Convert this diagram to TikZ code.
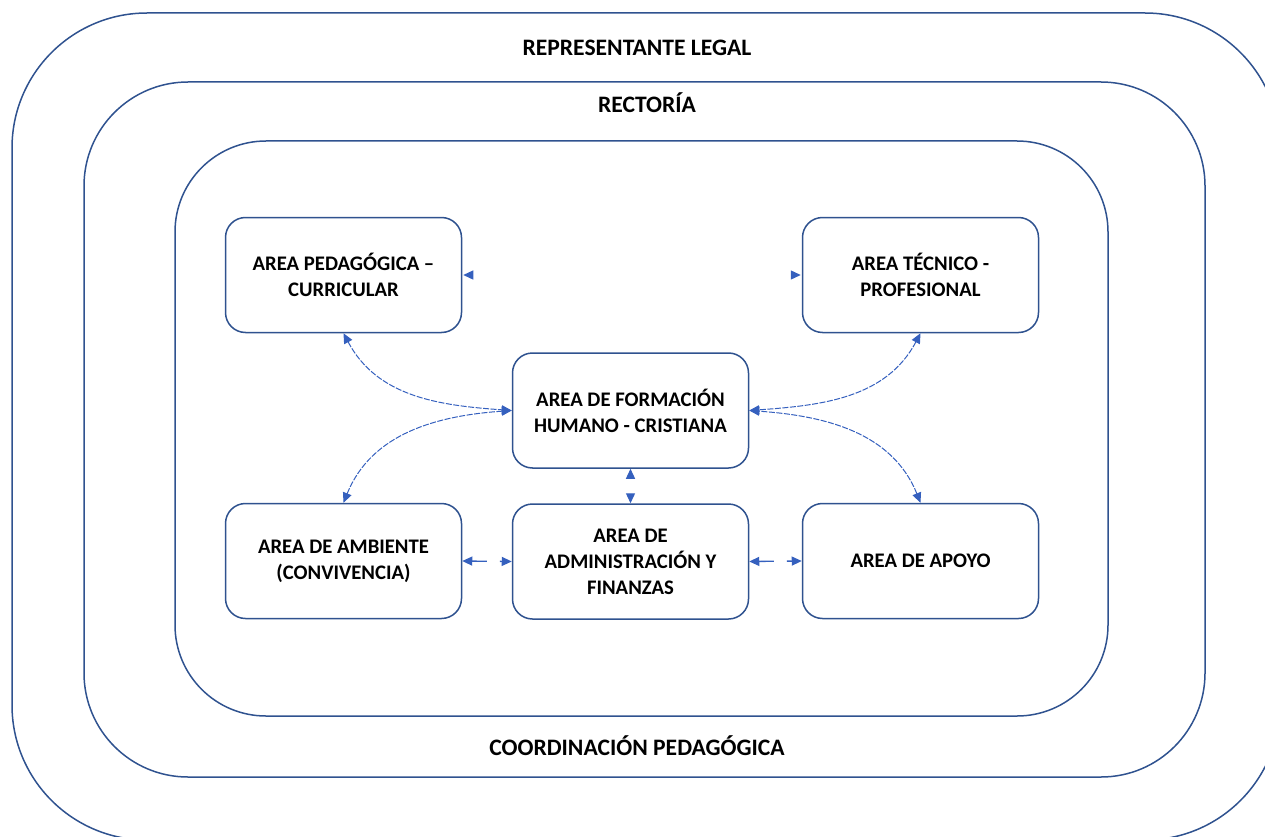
\documentclass[tikz,border=0pt]{standalone}
\usepackage{fontspec}
\setmainfont{Carlito}
\usetikzlibrary{arrows.meta}
\definecolor{frame}{HTML}{2F528F}
\definecolor{link}{HTML}{3560BE}
\tikzset{
  ring/.style={draw=frame, line width=1.5pt},
  area/.style={draw=frame, line width=1.5pt, rounded corners=20pt, fill=white,
    minimum width=236pt, minimum height=115pt, align=center,
    font=\fontsize{20.7}{26}\selectfont\bfseries, inner sep=0pt},
  heading/.style={font=\fontsize{23.6}{26}\selectfont\bfseries, inner sep=0pt},
  curvelink/.style={draw=link, line width=1pt, dash pattern=on 6pt off 1.5pt,
    {Triangle[length=10pt,width=9pt]}-{Triangle[length=10pt,width=9pt]}},
  straightlink/.style={draw=link, line width=1.3pt, dash pattern=on 15pt off 13pt,
    {Triangle[length=10pt,width=9pt]}-{Triangle[length=10pt,width=9pt]}},
  gaplink/.style={draw=link, line width=1.3pt, dash pattern=on 0pt off 40pt,
    {Triangle[length=10pt,width=9pt]}-{Triangle[length=10pt,width=9pt]}},
  lonetip/.style={draw=link, line width=1.3pt, dash pattern=on 0pt off 40pt,
    -{Triangle[length=10pt,width=9pt]}},
}
\begin{document}
\begin{tikzpicture}[x=1pt,y=1pt]
\useasboundingbox (0,0) rectangle (1265,-837);
\clip (0,0) rectangle (1265,-837);

% nested frames
\draw[ring, rounded corners=135pt] (12,-13) rectangle (1280,-840);
\draw[ring, rounded corners=104pt] (84,-82) rectangle (1205,-777);
\draw[ring, rounded corners=91pt] (175,-141) rectangle (1108,-716);

% frame headings
\node[heading] (rep) at (637,-48) {REPRESENTANTE LEGAL};
\node[heading] (rec) at (647,-103) {RECTORÍA};
\node[heading] (coord) at (637,-746) {COORDINACIÓN PEDAGÓGICA};

% areas
\node[area] (ped) at (343.5,-275) {AREA PEDAGÓGICA –\\CURRICULAR};
\node[area] (tec) at (920.5,-275) {AREA TÉCNICO -\\PROFESIONAL};
\node[area] (form) at (630.5,-410.5) {AREA DE FORMACIÓN\\HUMANO - CRISTIANA};
\node[area] (amb) at (343.5,-561) {AREA DE AMBIENTE\\(CONVIVENCIA)};
\node[area] (adm) at (630.5,-561.5) {AREA DE\\ADMINISTRACIÓN Y\\FINANZAS};
\node[area] (apo) at (920.5,-561) {AREA DE APOYO};

% curved links from the central area
\draw[curvelink] (ped.south) to[out=-62, in=176] (form.west);
\draw[curvelink] (amb.north) to[out=68, in=184] (form.west);
\draw[curvelink] (tec.south) to[out=-118, in=4] (form.east);
\draw[curvelink] (apo.north) to[out=112, in=-4] (form.east);

% straight links
\draw[gaplink] (form.south) -- (adm.north);
\draw[straightlink] (amb.east) -- (adm.west);
\draw[straightlink] (adm.east) -- (apo.west);

% lone arrow tips beside the upper areas
\coordinate (pedtip) at ([xshift=12pt]ped.east);
\coordinate (tectip) at ([xshift=-12pt]tec.west);
\draw[lonetip] (pedtip) -- ([xshift=1pt]ped.east);
\draw[lonetip] (tectip) -- ([xshift=-1pt]tec.west);
\end{tikzpicture}
\end{document}
